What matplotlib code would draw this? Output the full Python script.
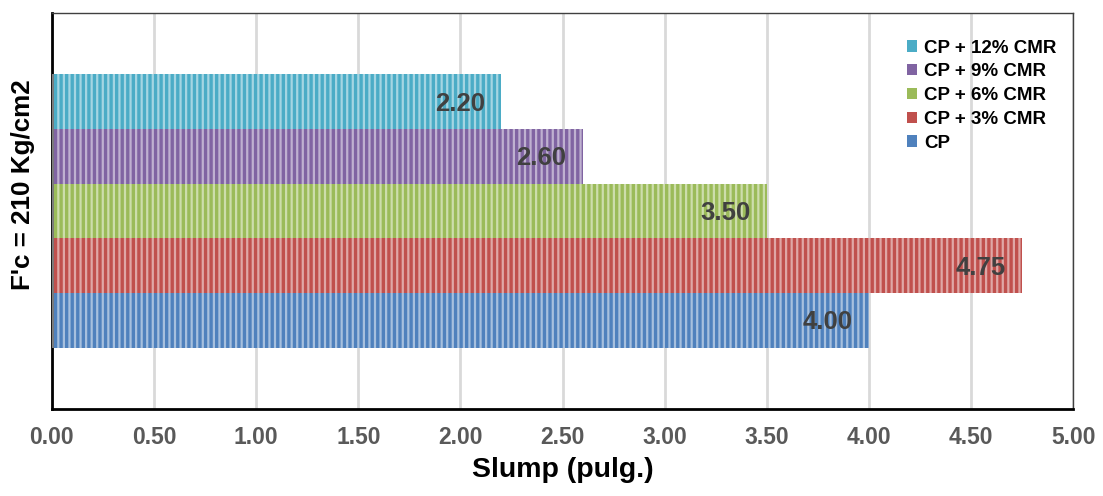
import numpy as np
import matplotlib
matplotlib.use("Agg")
import matplotlib.pyplot as plt

# datos
series = ["CP", "CP + 3% CMR", "CP + 6% CMR", "CP + 9% CMR", "CP + 12% CMR"]
slump = [4.00, 4.75, 3.50, 2.60, 2.20]
colores = ["#4F81BD", "#C0504D", "#9BBB59", "#8064A2", "#4BACC6"]
xticks = [0.0, 0.5, 1.0, 1.5, 2.0, 2.5, 3.0, 3.5, 4.0, 4.5, 5.0]

plt.rcParams["font.family"] = ["Liberation Sans", "DejaVu Sans"]
plt.rcParams["hatch.linewidth"] = 1.6

fig = plt.figure(figsize=(11.03, 4.96), dpi=100)
ax = fig.add_axes([0.047, 0.175, 0.926, 0.799])

n = len(series)
h = 0.138
pos = (np.arange(n) - (n - 1) / 2) * h

for i in range(n):
    ax.barh(pos[i], slump[i], height=h, color=colores[i], label=series[i], zorder=2)
    # textura de rayas verticales
    ax.barh(pos[i], slump[i], height=h, color="none", edgecolor="white",
            hatch="|||", linewidth=0, alpha=0.5, zorder=3)
    ax.text(slump[i] - 0.08, pos[i] - 0.005, "%.2f" % slump[i], ha="right", va="center",
            fontsize=18.5, fontweight="bold", color="#404040", zorder=4)

ax.set_xlim(0, 5)
ax.set_ylim(-0.5, 0.5)
ax.set_xticks(xticks)
ax.set_xticklabels(["%.2f" % v for v in xticks], fontsize=16.5, fontweight="bold", color="#595959")
ax.set_yticks([])
ax.tick_params(axis="x", length=0, pad=12)
ax.grid(axis="x", color="#D9D9D9", linewidth=2, zorder=0)
ax.set_axisbelow(True)

for s in ["left", "bottom"]:
    ax.spines[s].set_linewidth(2)
    ax.spines[s].set_color("black")
for s in ["top", "right"]:
    ax.spines[s].set_linewidth(1)
    ax.spines[s].set_color("#404040")

ax.set_xlabel("Slump (pulg.)", fontsize=20.5, fontweight="bold", labelpad=6)
ax.set_ylabel("F'c = 210 Kg/cm2", fontsize=18.7, fontweight="bold")
ax.yaxis.set_label_coords(-0.016, 0.566)

handles, labels = ax.get_legend_handles_labels()
leg = ax.legend(handles[::-1], labels[::-1], loc="upper right", bbox_to_anchor=(1.0, 0.975),
                frameon=False, prop={"weight": "bold", "size": 13.5},
                handlelength=0.55, handleheight=0.55, handletextpad=0.35, labelspacing=0.36)

fig.savefig("out.png", dpi=100)
